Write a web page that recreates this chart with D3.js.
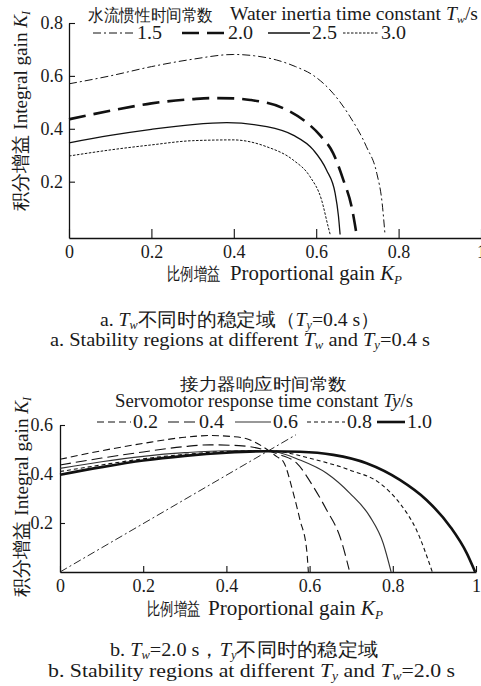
<!DOCTYPE html>
<html>
<head>
<meta charset="utf-8">
<script src="https://cdn.jsdelivr.net/npm/d3@7"></script>
<style>
  body { margin: 0; background: #fff; }
  .serif { font-family: "Liberation Serif"; }
</style>
</head>
<body>
<svg id="chart" width="481" height="686"></svg>
<script>
// ---- data ----
var kpTicks = [0, 0.2, 0.4, 0.6, 0.8, 1];
var kiTicksA = [0.2, 0.4, 0.6, 0.8];
var kiTicksB = [0.2, 0.4, 0.6];

// chart a: Tw series, points are [Kp, Ki]
var twNames = ["1.5", "2.0", "2.5", "3.0"];
var tw15 = [[0,0.57],[0.1,0.60],[0.2,0.635],[0.3,0.663],[0.4,0.681],[0.45,0.676],[0.504,0.66],[0.55,0.635],[0.592,0.603],[0.641,0.534],[0.682,0.446],[0.722,0.332],[0.747,0.232],[0.76,0.12],[0.767,0]];
var tw20 = [[0,0.436],[0.1,0.468],[0.2,0.496],[0.3,0.512],[0.35,0.516],[0.4,0.515],[0.44,0.509],[0.52,0.478],[0.569,0.433],[0.609,0.376],[0.641,0.308],[0.666,0.206],[0.686,0.105],[0.698,0]];
var tw25 = [[0,0.347],[0.1,0.375],[0.2,0.398],[0.3,0.416],[0.383,0.423],[0.48,0.408],[0.544,0.376],[0.593,0.32],[0.625,0.244],[0.646,0.156],[0.654,0.07],[0.658,0]];
var tw30 = [[0,0.297],[0.1,0.32],[0.2,0.339],[0.3,0.355],[0.398,0.358],[0.48,0.332],[0.544,0.282],[0.585,0.219],[0.613,0.131],[0.629,0.03],[0.634,0]];

// chart b: Ty series
var tyNames = ["0.2", "0.4", "0.6", "0.8", "1.0"];
var ty02 = [[0,0.46],[0.1,0.495],[0.2,0.525],[0.3,0.55],[0.36,0.557],[0.42,0.552],[0.457,0.539],[0.489,0.51],[0.521,0.471],[0.537,0.45],[0.561,0.321],[0.577,0.212],[0.593,0.09],[0.597,0]];
var ty04 = [[0,0.437],[0.1,0.465],[0.2,0.49],[0.3,0.512],[0.36,0.519],[0.43,0.516],[0.5,0.495],[0.53,0.478],[0.569,0.444],[0.609,0.348],[0.641,0.253],[0.673,0.144],[0.695,0.01]];
var ty06 = [[0,0.423],[0.1,0.45],[0.2,0.472],[0.3,0.487],[0.4,0.495],[0.5,0.495],[0.577,0.457],[0.641,0.403],[0.697,0.321],[0.745,0.226],[0.777,0.117],[0.796,0]];
var ty08 = [[0,0.41],[0.1,0.437],[0.2,0.462],[0.3,0.48],[0.4,0.492],[0.5,0.495],[0.617,0.457],[0.697,0.416],[0.769,0.362],[0.817,0.28],[0.857,0.171],[0.895,0]];
var ty10 = [[0,0.397],[0.1,0.428],[0.2,0.455],[0.3,0.474],[0.4,0.487],[0.5,0.493],[0.577,0.491],[0.657,0.478],[0.737,0.444],[0.817,0.376],[0.881,0.294],[0.938,0.185],[0.978,0.076],[0.998,0]];
var boundaryLine = [[0,0],[0.567,0.56]];

// ---- helpers ----
var svg = d3.select("#chart");
var ink = "#111";

function tickFmt(d) { return d === 0 ? "0" : d === 1 ? "1" : d.toFixed(1); }

function addText(g, x, y, size, len) {
    var t = g.append("text")
        .attr("class", "serif")
        .attr("x", x).attr("y", y)
        .attr("fill", "#1a1a1a")
        .attr("font-size", size);
    if (len) t.attr("textLength", len).attr("lengthAdjust", "spacingAndGlyphs");
    return t;
}

// parts: [text, opts] ; opts: i (italic), sub (subscript)
function rich(g, x, y, size, parts, len, rotate) {
    var t = addText(g, x, y, size, len);
    if (rotate) t.attr("transform", "rotate(-90," + x + "," + y + ")");
    var shift = 0;
    parts.forEach(function (p) {
        var o = p[1] || {};
        var ts = t.append("tspan").text(p[0]);
        if (o.i) ts.attr("font-style", "italic");
        if (o.sub) {
            ts.attr("font-size", size * 0.62).attr("dy", size * 0.18 - shift);
            shift = size * 0.18;
        } else if (shift) {
            ts.attr("dy", -shift);
            shift = 0;
        }
    });
    return t;
}

function styleAxis(a) {
    a.attr("font-family", null);
    a.select(".domain").attr("stroke", ink).attr("stroke-width", 1.3);
    a.selectAll(".tick line").attr("stroke", ink).attr("stroke-width", 1.1);
    a.selectAll("text").attr("class", "serif").attr("font-size", 18).attr("fill", "#1a1a1a");
}

function drawAxes(g, x, y, yTicks, xTick, yTick, xPad, yPad) {
    g.append("g")
        .attr("transform", "translate(0," + y.range()[0] + ")")
        .call(d3.axisBottom(x).tickValues(kpTicks).tickFormat(tickFmt)
            .tickSizeInner(-xTick).tickSizeOuter(0).tickPadding(xPad))
        .call(styleAxis);
    g.append("g")
        .attr("transform", "translate(" + x.range()[0] + ",0)")
        .call(d3.axisLeft(y).tickValues(yTicks).tickFormat(tickFmt)
            .tickSizeInner(-yTick).tickSizeOuter(0).tickPadding(yPad))
        .call(styleAxis);
}

function drawSeries(g, x, y, series) {
    var line = d3.line()
        .x(function (d) { return x(d[0]); })
        .y(function (d) { return y(d[1]); })
        .curve(d3.curveMonotoneX);
    series.forEach(function (s) {
        g.append("path")
            .attr("d", line(s.data))
            .attr("fill", "none")
            .attr("stroke", s.color || ink)
            .attr("stroke-width", s.w)
            .attr("stroke-dasharray", s.dash || null);
    });
}

function drawLegend(g, items, yLine, yText) {
    items.forEach(function (s) {
        g.append("line")
            .attr("x1", s.lx0).attr("x2", s.lx1)
            .attr("y1", yLine).attr("y2", yLine)
            .attr("stroke", s.color || ink)
            .attr("stroke-width", s.w)
            .attr("stroke-dasharray", s.dash || null);
        addText(g, s.lx1 + 2, yText, 18, 25).text(s.name);
    });
}

// ---- chart a ----
var gA = svg.append("g");
var xA = d3.scaleLinear().domain([0, 1]).range([69, 481]);
var yA = d3.scaleLinear().domain([-0.013, 0.8]).range([238, 23]);

var seriesA = [
    {name: twNames[0], data: tw15, w: 1, dash: "8,3,2,3", lx0: 93, lx1: 135},
    {name: twNames[1], data: tw20, w: 2.6, dash: "17,8", lx0: 182, lx1: 226},
    {name: twNames[2], data: tw25, w: 1.3, lx0: 268, lx1: 310},
    {name: twNames[3], data: tw30, w: 1, dash: "2.5,1.5", lx0: 343, lx1: 379}
];

drawAxes(gA, xA, yA, kiTicksA, 9, 6, 7, 6);
drawSeries(gA, xA, yA, seriesA);
drawLegend(gA, seriesA, 33, 39);

addText(gA, 88, 21, 16.5, 125).text("水流惯性时间常数");
rich(gA, 230, 20, 18, [["Water inertia time constant "], ["T", {i: true}], ["w", {i: true, sub: true}], ["/s"]], 248);
rich(gA, 27, 211, 19, [["积分增益 "], ["Integral gain "], ["K", {i: true}], ["I", {i: true, sub: true}]], 200, true);
addText(gA, 167, 280, 18, 53).text("比例增益");
rich(gA, 230, 280, 20, [["Proportional gain "], ["K", {i: true}], ["P", {i: true, sub: true}]], 172);

rich(gA, 100, 326, 19, [["a. "], ["T", {i: true}], ["w", {i: true, sub: true}], ["不同时的稳定域（"], ["T", {i: true}], ["y", {i: true, sub: true}], ["=0.4 s）"]], 280);
rich(gA, 50, 346, 19, [["a. Stability regions at different "], ["T", {i: true}], ["w", {i: true, sub: true}], [" and "], ["T", {i: true}], ["y", {i: true, sub: true}], ["=0.4 s"]], 380);

// ---- chart b ----
var gB = svg.append("g");
var xB = d3.scaleLinear().domain([0, 1]).range([60, 476]);
var yB = d3.scaleLinear().domain([0, 0.6]).range([572, 425]);

var seriesB = [
    {name: tyNames[0], data: ty02, w: 1.1, dash: "7,4", lx0: 97, lx1: 131},
    {name: tyNames[1], data: ty04, w: 1.1, dash: "11,5", lx0: 168, lx1: 197},
    {name: tyNames[2], data: ty06, w: 1.2, lx0: 235, lx1: 271, color: "#333"},
    {name: tyNames[3], data: ty08, w: 1.1, dash: "4,3", lx0: 307, lx1: 345},
    {name: tyNames[4], data: ty10, w: 2.6, lx0: 377, lx1: 405}
];

drawAxes(gB, xB, yB, kiTicksB, 6, 5, 7, 7);
drawSeries(gB, xB, yB, [{data: boundaryLine, w: 0.9, dash: "8,3,2,3"}].concat(seriesB));
drawLegend(gB, seriesB, 422, 428);

addText(gB, 180, 390, 17, 167).text("接力器响应时间常数");
rich(gB, 115, 407, 18, [["Servomotor response time constant "], ["Ty", {i: true}], ["/s"]], 298);
rich(gB, 28, 597, 19, [["积分增益 "], ["Integral gain "], ["K", {i: true}], ["I", {i: true, sub: true}]], 200, true);
addText(gB, 147, 615, 18, 53).text("比例增益");
rich(gB, 208, 615, 20, [["Proportional gain "], ["K", {i: true}], ["P", {i: true, sub: true}]], 175);

rich(gB, 110, 656, 19, [["b. "], ["T", {i: true}], ["w", {i: true, sub: true}], ["=2.0 s，"], ["T", {i: true}], ["y", {i: true, sub: true}], ["不同时的稳定域"]], 268);
rich(gB, 48, 677, 19, [["b. Stability regions at different "], ["T", {i: true}], ["y", {i: true, sub: true}], [" and "], ["T", {i: true}], ["w", {i: true, sub: true}], ["=2.0 s"]], 407);
</script>
</body>
</html>
